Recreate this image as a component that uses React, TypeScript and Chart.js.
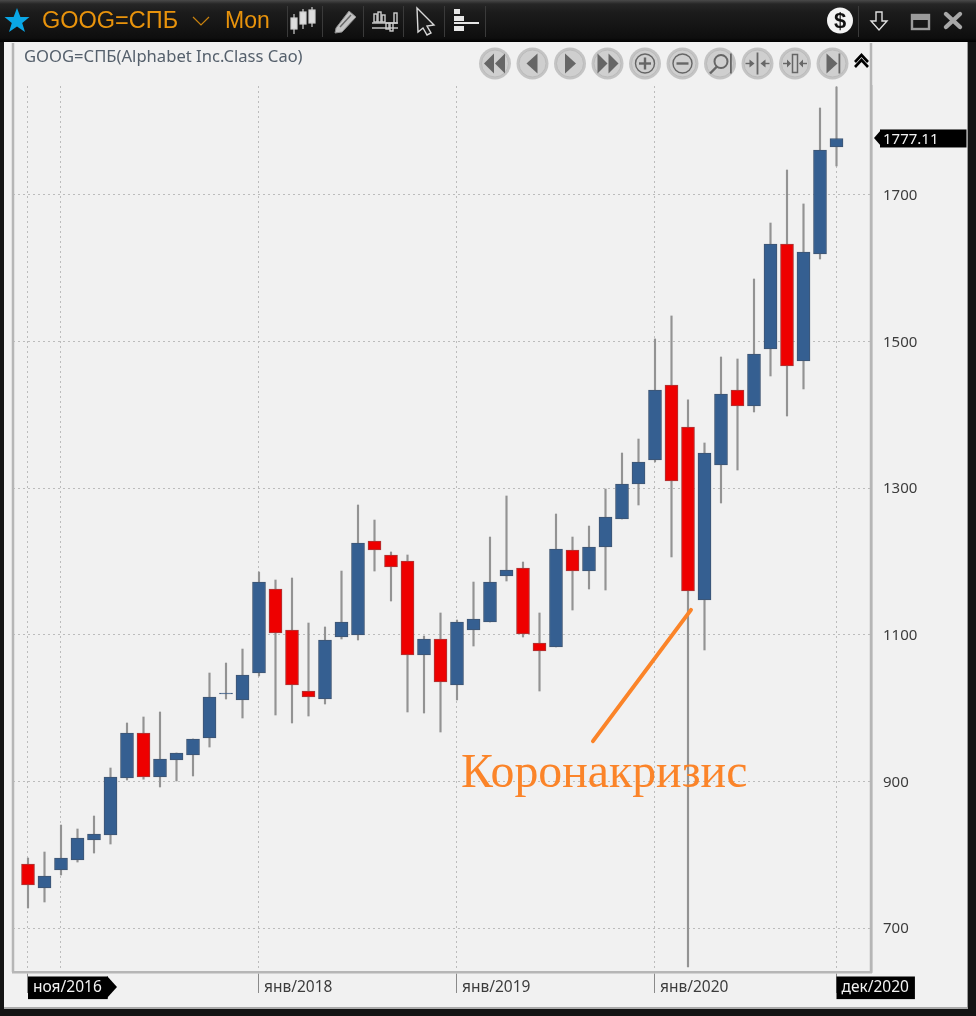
import React, { useEffect, useRef } from "react";
import { Chart, registerables } from "chart.js";

Chart.register(...registerables);

// Monthly candles, ноя/2016 .. дек/2020
const opens = [787.3, 754.6, 779.1, 792.8, 820.1, 826.9, 904.6, 966, 906, 929.2, 936, 959.2, 1019.2, 1011.1, 1047.9, 1162.5, 1106.6, 1023.3, 1012.4, 1097, 1099.7, 1228, 1208.9, 1200.7, 1072.5, 1094.3, 1031.5, 1106.6, 1117.5, 1180.2, 1191.1, 1088.8, 1083.4, 1215.7, 1187, 1219.8, 1258, 1305.7, 1338.5, 1440.8, 1383.5, 1147.5, 1331.7, 1434, 1412.2, 1489.9, 1633.2, 1473.6, 1619.5, 1765.5];
const highs = [795.5, 803.7, 840.5, 835.1, 852.8, 918.3, 979.7, 987.9, 994.7, 938.8, 957.9, 1047.9, 1061.5, 1080.6, 1185.7, 1174.8, 1177.5, 1116.1, 1110.7, 1187, 1277.1, 1256.6, 1213, 1208.9, 1098.4, 1129.8, 1120.2, 1172, 1233.4, 1289.4, 1199.3, 1129.8, 1264.8, 1233.4, 1248.4, 1298.9, 1348, 1367.1, 1503.6, 1535, 1420.4, 1361.7, 1479, 1476.3, 1585.4, 1661.8, 1734.1, 1687.8, 1818.7, 1847.4];
const lows = [727.3, 735.5, 772.3, 790, 802.3, 814.6, 901.9, 903, 892.4, 900.6, 907.4, 946.9, 1012.4, 986.5, 1043.8, 990.6, 979.7, 989.2, 1005.6, 1094.3, 1092.9, 1187, 1146.1, 994.7, 993.3, 967.4, 1011.1, 1084.7, 1117.5, 1173.4, 1097, 1023.3, 1083.4, 1133.8, 1162.5, 1161.1, 1258, 1277.1, 1335.8, 1206.2, 646.8, 1079.3, 1279.8, 1324.8, 1404, 1453.1, 1398.5, 1435.4, 1612.7, 1739.6];
const closes = [758.7, 770.9, 795.5, 822.8, 828.2, 906, 966, 906, 930.6, 938.8, 957.9, 1015.2, 1020.6, 1045.2, 1172, 1102.5, 1031.5, 1015.2, 1092.9, 1117.5, 1225.3, 1215.7, 1192.5, 1072.5, 1094.3, 1035.6, 1117.5, 1121.6, 1172, 1188.4, 1101.1, 1077.9, 1217.1, 1187, 1219.8, 1260.7, 1305.7, 1335.8, 1434, 1309.8, 1159.8, 1348, 1428.5, 1412.2, 1483.1, 1633.2, 1466.7, 1622.3, 1761.4, 1777.11];

const xTickIndexes = [0, 2, 14, 26, 38, 49];
const xTickLabels = ["ноя/2016", "", "янв/2018", "янв/2019", "янв/2020", "дек/2020"];
const yTickValues = [700, 900, 1100, 1300, 1500, 1700, 1777.11];
const lastPrice = 1777.11;
const crisisX = [34.24, 40.18];
const crisisY = [955, 1134];

const uiFont = '"Noto Sans", sans-serif';
const BLUE = "#355f91";
const RED = "#ee0000";

const framePlugin = {
  id: "frame",
  beforeDatasetsDraw(chart: any) {
    const { ctx, chartArea: a, scales } = chart;
    ctx.save();
    ctx.strokeStyle = "#b6b6b6";
    ctx.lineWidth = 2.5;
    ctx.beginPath();
    ctx.moveTo(a.left, 43);
    ctx.lineTo(a.left, a.bottom);
    ctx.moveTo(a.right, 43);
    ctx.lineTo(a.right, a.bottom);
    ctx.stroke();
    // pointer tips of the two black flags
    ctx.fillStyle = "#000";
    const fy = scales.y.getPixelForValue(lastPrice) - 0.5;
    ctx.beginPath();
    ctx.moveTo(a.right + 3, fy);
    ctx.lineTo(a.right + 10, fy - 8);
    ctx.lineTo(a.right + 10, fy + 8);
    ctx.fill();
    const fx = scales.x.getPixelForValue(0) + 79;
    ctx.beginPath();
    ctx.moveTo(fx, a.bottom + 4);
    ctx.lineTo(fx + 10, a.bottom + 15);
    ctx.lineTo(fx, a.bottom + 26);
    ctx.fill();
    ctx.restore();
  },
};

function NavButton({ cx, children }: { cx: number; children: React.ReactNode }) {
  return (
    <g transform={`translate(${cx} 63.5)`}>
      <circle r="16" fill="#c4c4c4" />
      <circle r="13.5" fill="#cfcfcf" stroke="#bbbbbb" strokeWidth="1" />
      <g fill="#666" stroke="#666" strokeWidth="0">{children}</g>
    </g>
  );
}

function Chrome() {
  const navX = [495, 532.5, 570, 607.5, 645, 682.5, 720, 757.5, 795, 832.5];
  const seps = [287, 322, 363, 403, 444, 485, 858];
  return (
    <svg width="976" height="1016" style={{ position: "absolute", left: 0, top: 0, pointerEvents: "none" }}>
      {seps.map((x) => (
        <line key={x} x1={x + 0.5} x2={x + 0.5} y1="6" y2="37" stroke="#3a3a3a" />
      ))}
      <polygon fill="#0aa7e6" points="17,8 20.4,17 29.5,17 22.2,23 25,32 17,26.6 9,32 11.8,23 4.5,17 13.6,17" />
      <polyline points="193,17 201,25 209,17" fill="none" stroke="#c9820e" strokeWidth="1.2" />
      {/* candle icon */}
      <g fill="#cfcfcf" stroke="#cfcfcf" strokeWidth="1.2">
        <line x1="294" x2="294" y1="14" y2="34" />
        <rect x="291" y="18" width="6" height="11" fill="#dddddd" />
        <line x1="303" x2="303" y1="9" y2="29" />
        <rect x="300" y="12" width="6" height="12" fill="#dddddd" />
        <line x1="312" x2="312" y1="7" y2="27" />
        <rect x="309" y="10" width="6" height="13" fill="#dddddd" />
      </g>
      {/* pencil icon */}
      <polygon points="336,28 349,11 356,17 342,32 335,33" fill="#c4c4c4" stroke="#8c8c8c" />
      <line x1="340" x2="351" y1="27" y2="15" stroke="#666" strokeWidth="1.4" />
      {/* bar-pattern icon */}
      <g fill="none" stroke="#cfcfcf" strokeWidth="1.4">
        <line x1="372" x2="398" y1="23" y2="23" />
        <line x1="372" x2="398" y1="28" y2="28" />
        <rect x="374" y="14" width="3" height="8" />
        <rect x="378" y="12" width="3" height="10" />
        <rect x="382" y="15" width="3" height="7" />
        <rect x="386" y="23" width="3" height="6" />
        <rect x="390" y="23" width="3" height="8" />
        <rect x="394" y="13" width="3" height="10" />
      </g>
      {/* cursor icon */}
      <polygon points="417,8 434,25 427,26 431,33 427,35 423,28 418,32" fill="#1a1a1a" stroke="#d8d8d8" strokeWidth="1.4" />
      {/* volume profile icon */}
      <g fill="#e6e6e6">
        <rect x="454" y="9" width="6" height="5" />
        <rect x="454" y="16" width="10" height="5" />
        <rect x="454" y="22" width="25" height="2" />
        <rect x="454" y="26" width="10" height="5" />
      </g>
      {/* right-hand toolbar */}
      <circle cx="840" cy="20.5" r="13" fill="#f4f4f4" />
      <text x="840" y="28" textAnchor="middle" fontFamily="Liberation Sans" fontWeight="700" fontSize="22" fill="#111">$</text>
      <polygon points="876,12 882,12 882,21 887,21 879,30 871,21 876,21" fill="none" stroke="#e0e0e0" strokeWidth="1.4" />
      <rect x="912" y="15" width="17" height="14" fill="none" stroke="#9a9a9a" strokeWidth="2.4" />
      <rect x="912" y="15" width="17" height="5" fill="#9a9a9a" />
      <g stroke="#a8a8a8" strokeWidth="4.4" strokeLinecap="round">
        <line x1="946" x2="960" y1="14" y2="27" />
        <line x1="960" x2="946" y1="14" y2="27" />
      </g>
      {/* navigation buttons */}
      <NavButton cx={navX[0]}><polygon points="-1,-10 -1,10 -11,0" /><polygon points="10,-10 10,10 0,0" /></NavButton>
      <NavButton cx={navX[1]}><polygon points="5,-10 5,10 -6,0" /></NavButton>
      <NavButton cx={navX[2]}><polygon points="-5,-10 -5,10 6,0" /></NavButton>
      <NavButton cx={navX[3]}><polygon points="-10,-10 -10,10 0,0" /><polygon points="1,-10 1,10 11,0" /></NavButton>
      <NavButton cx={navX[4]}>
        <circle r="9.5" fill="none" stroke="#666" strokeWidth="1.4" />
        <rect x="-6" y="-1.2" width="12" height="2.4" />
        <rect x="-1.2" y="-6" width="2.4" height="12" />
      </NavButton>
      <NavButton cx={navX[5]}>
        <circle r="9.5" fill="none" stroke="#666" strokeWidth="1.4" />
        <rect x="-6" y="-1.2" width="12" height="2.4" />
      </NavButton>
      <NavButton cx={navX[6]}>
        <circle cx="1" cy="-2" r="6.5" fill="none" stroke="#666" strokeWidth="2" />
        <line x1="-3" x2="-10" y1="3" y2="10" stroke="#666" strokeWidth="2.4" />
        <rect x="10" y="-10" width="1.8" height="20" />
      </NavButton>
      <NavButton cx={navX[7]}>
        <rect x="-0.9" y="-11" width="1.8" height="22" />
        <polygon points="-3,0 -8,-4 -8,4" /><polygon points="3,0 8,-4 8,4" />
        <rect x="-12" y="-0.7" width="5" height="1.4" /><rect x="7" y="-0.7" width="5" height="1.4" />
      </NavButton>
      <NavButton cx={navX[8]}>
        <rect x="-2.5" y="-9" width="5" height="18" fill="none" stroke="#666" strokeWidth="1.5" />
        <polygon points="-4,0 -8,-4 -8,4" /><polygon points="4,0 8,-4 8,4" />
        <rect x="-12" y="-0.7" width="5" height="1.4" /><rect x="7" y="-0.7" width="5" height="1.4" />
      </NavButton>
      <NavButton cx={navX[9]}>
        <polygon points="-6,-10 -6,10 5,0" />
        <rect x="6" y="-10" width="1.8" height="20" />
      </NavButton>
      <g fill="none" stroke="#000" strokeWidth="2.6">
        <polyline points="855,62 861.5,55 868,62" />
        <polyline points="855,67 861.5,60 868,67" />
      </g>
    </svg>
  );
}

export default function App() {
  const ref = useRef<HTMLCanvasElement>(null);
  useEffect(() => {
    const idx = closes.map((_, i) => i);
    const chart = new Chart(ref.current as HTMLCanvasElement, {
      type: "bar",
      data: {
        datasets: [
          {
            type: "line",
            label: "Коронакризис",
            data: crisisX.map((x, i) => ({ x, y: crisisY[i] })),
            borderColor: "#fb8429",
            borderWidth: 4,
            borderCapStyle: "round",
            pointRadius: 0,
            order: 0,
          },
          {
            label: "body",
            data: idx.map((i) => ({ x: i, y: [opens[i], closes[i]] })),
            backgroundColor: idx.map((i) => (closes[i] < opens[i] ? RED : BLUE)),
            borderColor: idx.map((i) => (closes[i] < opens[i] ? "#a83a3a" : "#3f5572")),
            borderWidth: 1,
            borderSkipped: false,
            barThickness: 13,
            grouped: false,
            order: 1,
          },
          {
            label: "wick",
            data: idx.map((i) => ({ x: i, y: [lows[i], highs[i]] })),
            backgroundColor: "#939393",
            barThickness: 1.5,
            grouped: false,
            order: 2,
          },
        ],
      } as any,
      plugins: [framePlugin],
      options: {
        animation: false,
        responsive: false,
        devicePixelRatio: 1,
        layout: { padding: { left: 13, top: 86, right: 0, bottom: 0 } },
        plugins: { legend: { display: false }, tooltip: { enabled: false }, title: { display: false } },
        scales: {
          x: {
            type: "linear",
            offset: false,
            min: -0.909,
            max: 51.091,
            afterFit: (s: any) => { s.height = 44; },
            afterBuildTicks: (s: any) => { s.ticks = xTickIndexes.map((value) => ({ value })); },
            border: { display: true, color: "#b6b6b6", width: 2.5, dash: [2, 3] },
            grid: {
              offset: false,
              color: "#bcbcbc",
              lineWidth: 1,
              drawTicks: true,
              tickLength: 21,
              tickWidth: 1,
              tickBorderDash: [],
              tickColor: (c: any) => (c.tick && c.tick.value === 2 ? "rgba(0,0,0,0)" : "#8a8a8a"),
            },
            ticks: {
              autoSkip: false,
              maxRotation: 0,
              minRotation: 0,
              align: "start",
              labelOffset: 5,
              padding: -14.5,
              font: { family: '"Noto Sans"', size: 15.5 },
              callback: (v: any) => xTickLabels[xTickIndexes.indexOf(v)] ?? "",
              color: (c: any) => (c.tick && (c.tick.value === 0 || c.tick.value === 49) ? "#f2f2f2" : "#3c3c3c"),
              showLabelBackdrop: (c: any) => !!c.tick && (c.tick.value === 0 || c.tick.value === 49),
              backdropColor: "#000",
              backdropPadding: { left: 5, right: 6, top: 2, bottom: 2 },
            },
          },
          y: {
            type: "linear",
            position: "right",
            min: 640,
            max: 1848.7,
            afterFit: (s: any) => { s.width = 105; },
            afterBuildTicks: (s: any) => { s.ticks = yTickValues.map((value) => ({ value })); },
            border: { display: true, color: "#b6b6b6", width: 2.5, dash: [2, 3] },
            grid: {
              drawTicks: false,
              lineWidth: 1,
              color: (c: any) => (c.tick && c.tick.value === lastPrice ? "rgba(0,0,0,0)" : "#bcbcbc"),
            },
            ticks: {
              autoSkip: false,
              padding: 12,
              labelOffset: 1,
              font: { family: '"Noto Sans"', size: 15 },
              callback: (v: any) => String(v),
              color: (c: any) => (c.tick && c.tick.value === lastPrice ? "#f2f2f2" : "#3c3c3c"),
              showLabelBackdrop: (c: any) => !!c.tick && c.tick.value === lastPrice,
              backdropColor: "#000",
              backdropPadding: { left: 3, right: 28, top: 1, bottom: -1 },
            },
          },
        },
      } as any,
    });
    return () => chart.destroy();
  }, []);

  return (
    <div style={{ position: "absolute", left: 0, top: 0, width: 976, height: 1016, overflow: "hidden", background: "#141414" }}>
      <div style={{ position: "absolute", left: 0, top: 0, width: 976, height: 42, background: "linear-gradient(#4a4a4a 0, #262626 4px, #1c1c1c 12px, #0e0e0e 38px, #000 42px)" }} />
      <div style={{ position: "absolute", left: 4, top: 42, width: 964, height: 967, background: "#f1f1f1", borderRight: "1px solid #999", borderBottom: "2px solid #aaa", boxSizing: "border-box" }} />
      <canvas ref={ref} width={976} height={1016} style={{ position: "absolute", left: 0, top: 0, display: "block" }} />
      <Chrome />
      <div style={{ position: "absolute", left: 42, top: 5, font: '23.5px/30px "Liberation Sans"', color: "#e8930c", whiteSpace: "nowrap" }}>GOOG=СПБ</div>
      <div style={{ position: "absolute", left: 225, top: 5, font: '23px/30px "Liberation Sans"', color: "#e8930c", whiteSpace: "nowrap" }}>Mon</div>
      <div style={{ position: "absolute", left: 24, top: 45, font: `16.6px/22px ${uiFont}`, color: "#55606c", whiteSpace: "nowrap" }}>GOOG=СПБ(Alphabet Inc.Class Сао)</div>
      <div style={{ position: "absolute", left: 461, top: 741, font: '47.8px/60px "Liberation Serif"', color: "#fb8429", whiteSpace: "nowrap" }}>Коронакризис</div>
    </div>
  );
}
